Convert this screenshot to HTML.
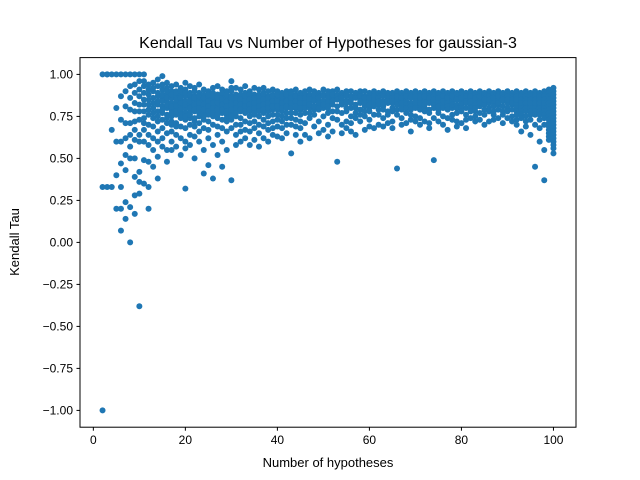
<!DOCTYPE html>
<html><head><meta charset="utf-8"><style>
body{margin:0;background:#fff;}
svg{display:block;font-family:"Liberation Sans","DejaVu Sans",sans-serif;}
</style></head><body>
<svg id="chart" width="640" height="480">
<rect width="640" height="480" fill="#fff"/>
<text x="328" y="48" text-anchor="middle" font-size="16">Kendall Tau vs Number of Hypotheses for gaussian-3</text>
<g id="points"></g>
<rect x="80" y="57.6" width="496" height="369.6" fill="none" stroke="#000" stroke-width="1"/>
<g id="xticks"></g>
<g id="yticks"></g>
<text x="328" y="467" text-anchor="middle" font-size="13">Number of hypotheses</text>
<text x="0" y="0" transform="translate(19,242) rotate(-90)" text-anchor="middle" font-size="13">Kendall Tau</text>
</svg>
<script>
const xTickValues=[0,20,40,60,80,100];
const yTickValues=[1.00,0.75,0.50,0.25,0.00,-0.25,-0.50,-0.75,-1.00];
const firstN=2;
const tauByN=[
[1,-1,0.33],
[1,1,0.33],
[1,0.33,0.67],
[1,0.2,0.6,0.8,0.4],
[1,0.07,0.47,0.73,0.87,0.2,0.6,0.33],
[1,0.52,0.71,0.62,0.81,0.9,0.14,0.43,0.24],
[1,0,0.64,0.79,0.86,0.93,0.57,0.71,0.5,0.21],
[1,0.72,0.83,0.89,0.61,0.67,0.78,0.94,0.39,0.5,0.17,0.28],
[1,-0.38,0.87,0.91,0.82,0.73,0.64,0.6,0.78,0.96,0.29,0.42,0.36],
[1,0.85,0.89,0.78,0.71,0.96,0.67,0.6,0.49,0.35,0.93,0.82,0.74],
[0.88,0.76,0.94,0.82,0.7,0.58,0.48,0.2,0.91,0.85,0.64,0.33,0.79],
[0.9,0.86,0.8,0.74,0.69,0.95,0.62,0.55,0.45,0.83,0.77,0.92],
[0.93,0.87,0.82,0.78,0.72,0.66,0.6,0.51,0.38,0.89,0.84,0.97,0.75],
[0.99,0.91,0.86,0.81,0.77,0.73,0.68,0.62,0.57,0.84,0.88,0.94,0.79],
[0.92,0.88,0.84,0.8,0.76,0.71,0.65,0.55,0.48,0.9,0.86,0.82,0.95,0.74],
[0.9,0.86,0.83,0.79,0.75,0.7,0.66,0.6,0.93,0.88,0.81,0.77,0.72,0.55],
[0.94,0.9,0.87,0.83,0.8,0.76,0.71,0.64,0.57,0.85,0.81,0.89,0.78,0.69],
[0.92,0.88,0.85,0.81,0.78,0.74,0.69,0.62,0.52,0.9,0.86,0.83,0.79,0.76],
[0.91,0.87,0.84,0.8,0.77,0.73,0.68,0.6,0.32,0.95,0.89,0.82,0.75,0.56],
[0.93,0.89,0.86,0.82,0.78,0.74,0.7,0.64,0.58,0.88,0.84,0.8,0.76],
[0.9,0.87,0.84,0.81,0.78,0.74,0.69,0.63,0.5,0.92,0.86,0.82,0.79,0.72],
[0.94,0.89,0.85,0.82,0.79,0.75,0.71,0.66,0.6,0.87,0.83,0.8,0.77],
[0.91,0.88,0.84,0.81,0.77,0.73,0.68,0.41,0.55,0.86,0.82,0.79,0.75],
[0.9,0.86,0.83,0.8,0.76,0.72,0.67,0.62,0.46,0.88,0.84,0.81,0.78],
[0.92,0.89,0.85,0.82,0.79,0.75,0.7,0.38,0.58,0.87,0.83,0.8,0.77],
[0.93,0.88,0.85,0.81,0.78,0.74,0.69,0.64,0.52,0.86,0.83,0.79,0.76],
[0.91,0.87,0.84,0.81,0.77,0.73,0.68,0.6,0.45,0.89,0.85,0.82,0.79],
[0.9,0.86,0.83,0.8,0.76,0.72,0.66,0.55,0.88,0.84,0.81,0.78,0.74],
[0.96,0.9,0.87,0.84,0.8,0.77,0.73,0.68,0.37,0.92,0.86,0.82,0.79,0.75],
[0.92,0.88,0.85,0.82,0.79,0.75,0.7,0.64,0.58,0.86,0.83,0.8,0.77],
[0.91,0.87,0.84,0.81,0.78,0.74,0.7,0.66,0.6,0.88,0.85,0.82,0.79],
[0.93,0.89,0.86,0.83,0.8,0.77,0.72,0.67,0.62,0.87,0.84,0.81,0.78],
[0.9,0.87,0.84,0.81,0.78,0.75,0.71,0.66,0.58,0.88,0.85,0.82,0.79],
[0.92,0.88,0.85,0.82,0.79,0.76,0.72,0.68,0.61,0.86,0.83,0.8,0.77],
[0.91,0.88,0.85,0.82,0.79,0.75,0.7,0.65,0.57,0.87,0.84,0.81,0.78],
[0.92,0.89,0.86,0.83,0.8,0.77,0.73,0.69,0.62,0.88,0.85,0.82,0.79],
[0.9,0.87,0.84,0.81,0.78,0.75,0.71,0.67,0.6,0.86,0.83,0.8],
[0.91,0.88,0.85,0.82,0.79,0.76,0.72,0.68,0.64,0.87,0.84,0.81],
[0.9,0.87,0.85,0.82,0.79,0.76,0.73,0.69,0.63,0.88,0.84,0.81],
[0.89,0.86,0.84,0.81,0.78,0.75,0.72,0.68,0.62,0.87,0.83,0.8],
[0.9,0.87,0.85,0.82,0.8,0.77,0.74,0.7,0.65,0.88,0.84,0.81],
[0.9,0.88,0.85,0.83,0.8,0.77,0.74,0.7,0.53,0.86,0.83,0.8],
[0.91,0.88,0.86,0.83,0.8,0.77,0.73,0.69,0.64,0.87,0.84,0.81],
[0.89,0.87,0.84,0.82,0.79,0.76,0.72,0.68,0.6,0.86,0.83,0.8],
[0.9,0.88,0.85,0.82,0.8,0.77,0.71,0.86,0.83,0.64],
[0.91,0.88,0.86,0.83,0.8,0.77,0.74,0.62,0.87,0.85,0.82],
[0.9,0.87,0.85,0.79,0.76,0.69,0.88,0.84,0.81],
[0.89,0.87,0.84,0.82,0.79,0.72,0.65,0.86,0.83,0.8],
[0.91,0.88,0.83,0.8,0.75,0.67,0.87,0.84,0.82],
[0.9,0.88,0.85,0.83,0.8,0.77,0.7,0.63,0.86,0.81],
[0.9,0.87,0.85,0.82,0.78,0.74,0.66,0.88,0.84],
[0.91,0.88,0.86,0.81,0.78,0.48,0.87,0.85,0.73],
[0.89,0.87,0.85,0.82,0.77,0.7,0.65,0.86,0.83],
[0.9,0.88,0.83,0.8,0.78,0.72,0.87,0.84,0.68],
[0.9,0.87,0.85,0.83,0.8,0.75,0.71,0.86,0.66],
[0.89,0.87,0.82,0.8,0.77,0.74,0.86,0.64],
[0.9,0.88,0.86,0.83,0.79,0.76,0.72,0.87,0.84],
[0.9,0.87,0.85,0.81,0.78,0.75,0.67,0.86,0.83],
[0.89,0.87,0.84,0.8,0.78,0.73,0.69,0.86,0.82],
[0.9,0.88,0.86,0.83,0.81,0.76,0.68,0.87,0.85],
[0.89,0.87,0.85,0.82,0.79,0.76,0.7,0.86,0.84],
[0.9,0.88,0.84,0.81,0.79,0.74,0.87,0.82,0.69],
[0.89,0.87,0.85,0.83,0.78,0.76,0.71,0.86,0.84],
[0.89,0.87,0.83,0.8,0.78,0.72,0.86,0.84,0.68],
[0.9,0.88,0.86,0.84,0.79,0.76,0.44,0.87,0.82],
[0.89,0.87,0.85,0.81,0.79,0.74,0.7,0.86,0.83],
[0.9,0.88,0.86,0.84,0.82,0.77,0.71,0.87,0.8],
[0.89,0.87,0.83,0.81,0.79,0.76,0.86,0.73,0.66],
[0.9,0.88,0.86,0.82,0.8,0.75,0.72,0.87,0.84],
[0.89,0.87,0.85,0.81,0.79,0.74,0.7,0.86,0.83],
[0.9,0.88,0.86,0.84,0.8,0.78,0.72,0.87,0.82],
[0.89,0.87,0.85,0.83,0.79,0.77,0.71,0.86,0.68],
[0.9,0.88,0.84,0.82,0.8,0.74,0.49,0.87,0.85],
[0.89,0.87,0.85,0.83,0.79,0.77,0.72,0.86,0.81],
[0.9,0.88,0.86,0.82,0.8,0.75,0.87,0.84,0.7],
[0.89,0.87,0.85,0.83,0.81,0.79,0.74,0.86,0.67],
[0.9,0.88,0.86,0.84,0.8,0.76,0.73,0.87,0.82],
[0.89,0.88,0.86,0.82,0.8,0.77,0.72,0.85,0.69],
[0.9,0.88,0.84,0.82,0.8,0.78,0.71,0.87,0.86],
[0.89,0.87,0.86,0.84,0.8,0.76,0.73,0.83,0.68],
[0.9,0.88,0.86,0.82,0.8,0.78,0.74,0.87,0.84],
[0.89,0.88,0.84,0.82,0.8,0.78,0.75,0.86,0.72],
[0.9,0.88,0.86,0.84,0.81,0.77,0.73,0.87,0.83],
[0.89,0.87,0.86,0.84,0.82,0.79,0.76,0.85,0.7],
[0.9,0.88,0.86,0.83,0.8,0.78,0.72,0.87,0.85],
[0.89,0.88,0.85,0.83,0.81,0.78,0.76,0.86,0.73],
[0.9,0.88,0.86,0.84,0.82,0.79,0.74,0.87,0.83],
[0.89,0.88,0.86,0.84,0.81,0.78,0.76,0.85,0.71],
[0.9,0.88,0.86,0.83,0.8,0.78,0.74,0.87,0.85],
[0.89,0.87,0.86,0.84,0.82,0.79,0.75,0.72,0.85,0.83],
[0.9,0.88,0.86,0.84,0.82,0.8,0.78,0.76,0.73,0.87,0.85,0.7],
[0.89,0.88,0.86,0.84,0.82,0.8,0.78,0.76,0.74,0.87,0.85,0.83,0.66],
[0.9,0.88,0.86,0.84,0.82,0.8,0.78,0.75,0.72,0.87,0.85,0.83,0.69],
[0.89,0.87,0.86,0.84,0.82,0.8,0.78,0.76,0.73,0.87,0.85,0.83,0.64],
[0.9,0.88,0.86,0.84,0.82,0.8,0.78,0.76,0.45,0.87,0.85,0.83,0.7],
[0.89,0.88,0.86,0.84,0.82,0.8,0.78,0.76,0.73,0.87,0.85,0.83,0.68,0.6],
[0.9,0.88,0.86,0.84,0.82,0.8,0.78,0.76,0.74,0.87,0.85,0.83,0.7,0.55,0.37],
[0.91,0.89,0.87,0.85,0.83,0.81,0.79,0.77,0.75,0.73,0.71,0.69,0.67,0.65,0.63,0.61],
[0.92,0.9,0.88,0.86,0.84,0.82,0.8,0.78,0.76,0.74,0.72,0.7,0.68,0.66,0.64,0.62,0.6,0.58,0.56,0.53]
];
const NS="http://www.w3.org/2000/svg";
const x0=80,x1=576,y0=57.6,y1=427.2;
const xMin=-2.9,xMax=104.9,yMin=-1.1,yMax=1.1;
function xScale(v){return x0+(v-xMin)/(xMax-xMin)*(x1-x0);}
function yScale(v){return y1-(v-yMin)/(yMax-yMin)*(y1-y0);}
const pg=document.getElementById('points');
tauByN.forEach(function(list,i){
  const n=firstN+i;
  list.forEach(function(t){
    const c=document.createElementNS(NS,'circle');
    c.setAttribute('cx',xScale(n));c.setAttribute('cy',yScale(t));
    c.setAttribute('r',3);c.setAttribute('fill','#1f77b4');
    
    
    pg.appendChild(c);
  });
});
const xg=document.getElementById('xticks');
xTickValues.forEach(function(v){
  const x=xScale(v);
  const l=document.createElementNS(NS,'line');
  l.setAttribute('x1',x);l.setAttribute('x2',x);l.setAttribute('y1',y1);l.setAttribute('y2',y1+3.5);l.setAttribute('stroke','#000');
  
  
  xg.appendChild(l);
  const t=document.createElementNS(NS,'text');
  t.setAttribute('x',x);t.setAttribute('y',y1+17);t.setAttribute('text-anchor','middle');t.setAttribute('font-size','12');
  t.textContent=String(v);
  
  
  xg.appendChild(t);
});
const yg=document.getElementById('yticks');
yTickValues.forEach(function(v){
  const y=yScale(v);
  const l=document.createElementNS(NS,'line');
  l.setAttribute('x1',x0-3.5);l.setAttribute('x2',x0);l.setAttribute('y1',y);l.setAttribute('y2',y);l.setAttribute('stroke','#000');
  
  
  yg.appendChild(l);
  const t=document.createElementNS(NS,'text');
  t.setAttribute('x',x0-7);t.setAttribute('y',y+4);t.setAttribute('text-anchor','end');t.setAttribute('font-size','12');
  t.textContent=(v<0?'\u2212':'')+Math.abs(v).toFixed(2);
  
  
  yg.appendChild(t);
});
</script>
</body></html>
